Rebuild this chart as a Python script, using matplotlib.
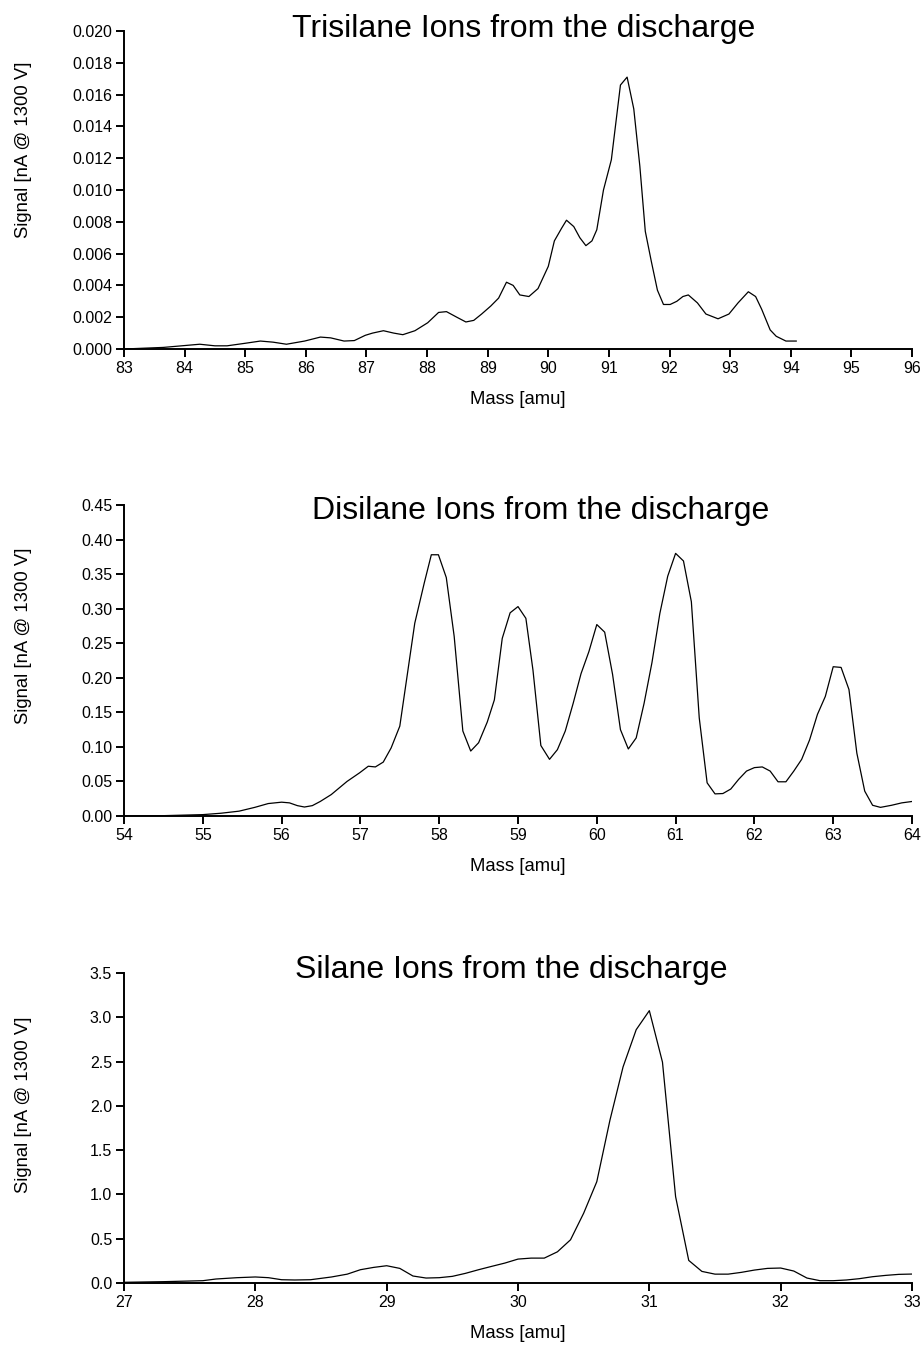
import matplotlib
matplotlib.use("Agg")
import matplotlib.pyplot as plt
import numpy as np

plt.rcParams['font.family'] = ['Liberation Sans', 'DejaVu Sans']

# trisilane ions
tri_mass = [83.0, 83.65, 83.95, 84.25, 84.5, 84.7, 85.0, 85.25, 85.46, 85.68, 85.98,
            86.24, 86.41, 86.63, 86.8, 86.98, 87.1, 87.28, 87.45, 87.6, 87.8, 88.01,
            88.19, 88.32, 88.49, 88.64, 88.77, 88.9, 89.05, 89.18, 89.31, 89.42, 89.53,
            89.68, 89.83, 90.0, 90.1, 90.22, 90.3, 90.42, 90.52, 90.62, 90.72, 90.8,
            90.91, 91.04, 91.19, 91.3, 91.41, 91.51, 91.6, 91.7, 91.8, 91.9, 92.01,
            92.12, 92.22, 92.31, 92.46, 92.6, 92.8, 92.98, 93.13, 93.3, 93.42, 93.52,
            93.66, 93.76, 93.92, 94.0, 94.09]
tri_signal = [0.0, 0.0001, 0.0002, 0.0003, 0.0002, 0.0002, 0.00036, 0.0005, 0.00043,
              0.0003, 0.0005, 0.00075, 0.0007, 0.0005, 0.00053, 0.00086, 0.001, 0.00115,
              0.001, 0.0009, 0.00115, 0.00165, 0.0023, 0.00235, 0.002, 0.0017, 0.0018,
              0.0022, 0.0027, 0.0032, 0.0042, 0.004, 0.0034, 0.0033, 0.0038, 0.0052,
              0.0068, 0.0076, 0.0081, 0.0077, 0.007, 0.0065, 0.0068, 0.0075, 0.010,
              0.0119, 0.0166, 0.0171, 0.0151, 0.0115, 0.0074, 0.0055, 0.0037, 0.0028,
              0.0028, 0.003, 0.0033, 0.0034, 0.0029, 0.0022, 0.0019, 0.0022, 0.0029,
              0.0036, 0.0033, 0.0025, 0.0012, 0.0008, 0.0005, 0.0005, 0.0005]

# disilane ions
di_mass = [54.0, 54.5, 55.0, 55.23, 55.46, 55.66, 55.83, 56.0, 56.1, 56.2, 56.29, 56.39,
           56.49, 56.63, 56.83, 56.99, 57.1, 57.19, 57.29, 57.39, 57.5, 57.69, 57.81,
           57.9, 57.99, 58.09, 58.19, 58.3, 58.4, 58.5, 58.61, 58.7, 58.8, 58.9, 59.0,
           59.1, 59.19, 59.29, 59.4, 59.5, 59.6, 59.7, 59.8, 59.9, 60.0, 60.1, 60.2,
           60.3, 60.4, 60.5, 60.6, 60.7, 60.8, 60.9, 61.0, 61.1, 61.2, 61.3, 61.4, 61.5,
           61.6, 61.7, 61.8, 61.9, 62.0, 62.1, 62.2, 62.3, 62.4, 62.5, 62.6, 62.7, 62.8,
           62.9, 63.0, 63.1, 63.2, 63.3, 63.4, 63.5, 63.6, 63.74, 63.87, 64.0]
di_signal = [0.0, 0.0005, 0.002, 0.004, 0.007, 0.0125, 0.018, 0.020, 0.019, 0.015, 0.013,
             0.015, 0.021, 0.031, 0.050, 0.0625, 0.072, 0.071, 0.078, 0.0985, 0.13, 0.279,
             0.337, 0.378, 0.378, 0.345, 0.26, 0.123, 0.094, 0.106, 0.136, 0.168, 0.257,
             0.294, 0.303, 0.286, 0.211, 0.102, 0.082, 0.096, 0.123, 0.163, 0.206, 0.238,
             0.277, 0.266, 0.205, 0.125, 0.097, 0.113, 0.163, 0.222, 0.293, 0.347, 0.380,
             0.369, 0.310, 0.142, 0.048, 0.032, 0.0325, 0.039, 0.053, 0.065, 0.07, 0.071,
             0.065, 0.0495, 0.0495, 0.065, 0.082, 0.11, 0.147, 0.173, 0.216, 0.215, 0.183,
             0.091, 0.036, 0.0155, 0.0125, 0.0155, 0.019, 0.021]

# silane ions
si_mass = [27.0, 27.3, 27.6, 27.7, 27.86, 28.0, 28.1, 28.2, 28.3, 28.42, 28.58, 28.7,
           28.8, 28.9, 29.0, 29.1, 29.2, 29.3, 29.4, 29.5, 29.6, 29.7, 29.8, 29.9, 30.0,
           30.1, 30.2, 30.3, 30.4, 30.5, 30.6, 30.7, 30.8, 30.9, 31.0, 31.1, 31.2, 31.3,
           31.4, 31.5, 31.6, 31.7, 31.8, 31.9, 32.0, 32.1, 32.2, 32.3, 32.4, 32.5, 32.6,
           32.7, 32.8, 32.9, 33.0]
si_signal = [0.008, 0.015, 0.026, 0.045, 0.06, 0.068, 0.06, 0.037, 0.034, 0.037, 0.068,
             0.10, 0.15, 0.176, 0.195, 0.165, 0.079, 0.056, 0.06, 0.075, 0.109, 0.15,
             0.188, 0.225, 0.27, 0.281, 0.281, 0.352, 0.488, 0.788, 1.144, 1.838, 2.44,
             2.86, 3.075, 2.494, 0.975, 0.255, 0.131, 0.10, 0.10, 0.12, 0.146, 0.165,
             0.169, 0.135, 0.056, 0.026, 0.026, 0.034, 0.049, 0.071, 0.086, 0.0975, 0.101]

titles = ["Trisilane Ions from the discharge", "Disilane Ions from the discharge",
          "Silane Ions from the discharge"]

W, H = 923, 1349
fig = plt.figure(figsize=(W / 100, H / 100), dpi=100)

# pixel layout: top, bottom of each axes, title start/centre, ylabel centre
panels = [
    (tri_mass, tri_signal, 31, 349, (83, 96), (0, 0.020), 0.002, "{:.3f}", (292, 29), 150),
    (di_mass, di_signal, 505, 816, (54, 64), (0, 0.45), 0.05, "{:.2f}", (312, 511), 636),
    (si_mass, si_signal, 973, 1283, (27, 33), (0, 3.5), 0.5, "{:.1f}", (295, 970), 1105),
]

left, right = 124, 912
for i, (xs, ys, top, bot, xl, yl, ystep, fmt, tpos, ylab) in enumerate(panels):
    ax = fig.add_axes([left / W, 1 - bot / H, (right - left) / W, (bot - top) / H])
    ax.plot(xs, ys, color="black", lw=0.9)
    ax.set_xlim(*xl)
    ax.set_ylim(*yl)
    ax.set_xticks(np.arange(xl[0], xl[1] + 1, 1))
    yt = np.arange(0, round(yl[1] / ystep) + 1) * ystep
    ax.set_yticks(yt)
    ax.set_yticklabels([fmt.format(v) for v in yt])
    for s in ["top", "right"]:
        ax.spines[s].set_visible(False)
    ax.spines["left"].set_linewidth(1.4)
    ax.spines["bottom"].set_linewidth(1.4)
    ax.tick_params(direction="out", length=5.5, width=1.4, labelsize=11.5, pad=3)
    ax.set_xlabel("Mass [amu]", fontsize=13.3, labelpad=11)
    fig.text(24 / W, 1 - ylab / H, "Signal [nA @ 1300 V]", fontsize=13.3,
             rotation=90, ha="center", va="center")
    fig.text(tpos[0] / W, 1 - tpos[1] / H, titles[i], fontsize=23,
             ha="left", va="center")

fig.savefig("out.png", dpi=100)
